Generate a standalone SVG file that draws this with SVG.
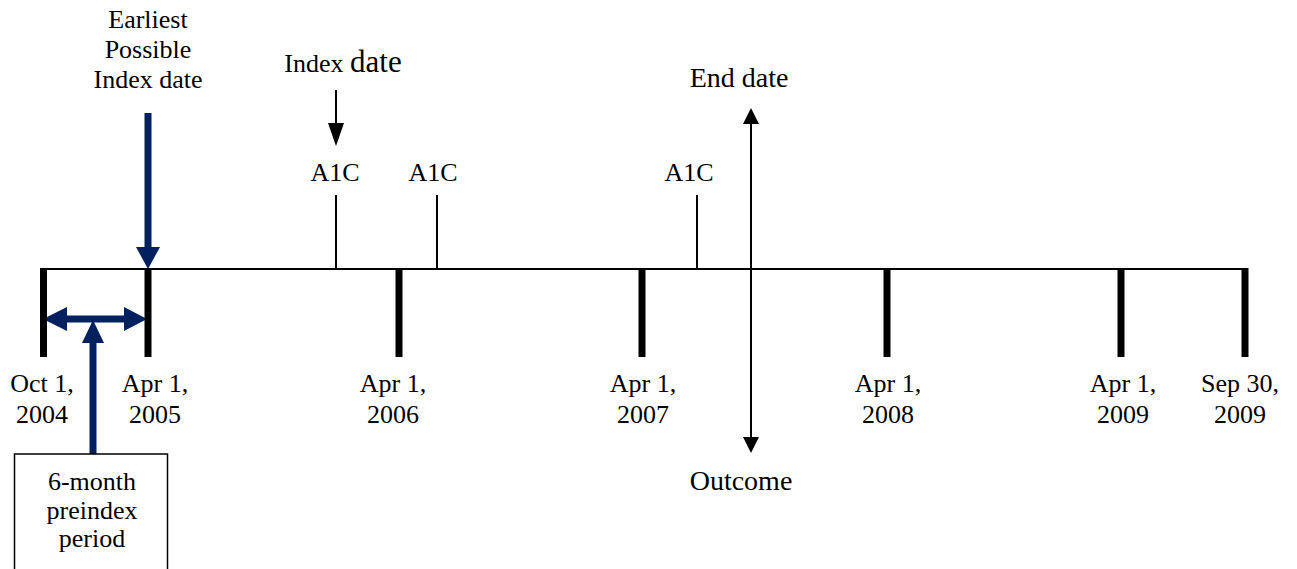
<svg xmlns="http://www.w3.org/2000/svg" width="1297" height="569" viewBox="0 0 1297 569">
<style>
text{font-family:"Liberation Serif","Times New Roman",serif;font-size:26px;fill:#000;text-anchor:middle}
.big{font-size:28px}
.tick{stroke:#000;stroke-width:7;fill:none}
.thin{stroke:#000;stroke-width:2;fill:none}
.navy{stroke:#002060;stroke-width:7;fill:none}
.navyhead{fill:#002060}
.head{fill:#000}
</style>
<rect width="1297" height="569" fill="#fff"/>
<g id="connectors">
  <line class="thin" x1="43" y1="269" x2="1245" y2="269"/>
  <line class="thin" x1="336" y1="195" x2="336" y2="269"/>
  <line class="thin" x1="437" y1="195" x2="437" y2="269"/>
  <line class="thin" x1="697" y1="195" x2="697" y2="269"/>
  <line class="thin" x1="336" y1="90" x2="336" y2="125"/>
  <polygon class="head" points="328,123 344,123 336,146"/>
  <line class="thin" x1="751" y1="122" x2="751" y2="440"/>
  <polygon class="head" points="743,124 759,124 751,108"/>
  <polygon class="head" points="743,437 759,437 751,453"/>
  <line class="navy" x1="148" y1="113" x2="148" y2="250"/>
  <polygon class="navyhead" points="136,247 160,247 148,269"/>
  <line class="navy" x1="62" y1="319" x2="129" y2="319"/>
  <polygon class="navyhead" points="43,319 67,307 67,331"/>
  <polygon class="navyhead" points="147,319 124,307 124,331"/>
  <line class="navy" x1="93" y1="338" x2="93" y2="454"/>
  <polygon class="navyhead" points="93,320 82,343 104,343"/>
</g>
<g id="ticks">
  <line class="tick" x1="43.5" y1="268" x2="43.5" y2="357"/>
  <line class="tick" x1="148" y1="268" x2="148" y2="357"/>
  <line class="tick" x1="399" y1="268" x2="399" y2="357"/>
  <line class="tick" x1="642" y1="268" x2="642" y2="357"/>
  <line class="tick" x1="887" y1="268" x2="887" y2="357"/>
  <line class="tick" x1="1121" y1="268" x2="1121" y2="357"/>
  <line class="tick" x1="1245" y1="268" x2="1245" y2="357"/>
</g>
<g id="earliest">
  <text x="148" y="28">Earliest</text>
  <text x="148" y="58">Possible</text>
  <text x="148" y="88">Index date</text>
</g>
<g id="index-date">
  <text x="343" y="72"><tspan>Index </tspan><tspan font-size="31">date</tspan></text>
</g>
<g id="a1c-1"><text x="335" y="181">A1C</text></g>
<g id="a1c-2"><text x="433" y="181">A1C</text></g>
<g id="a1c-3"><text x="689" y="181">A1C</text></g>
<g id="end-date"><text class="big" x="739" y="87">End date</text></g>
<g id="outcome"><text class="big" x="741" y="490">Outcome</text></g>
<g id="d2004"><text x="42" y="392">Oct 1,</text><text x="42" y="423">2004</text></g>
<g id="d2005"><text x="155" y="392">Apr 1,</text><text x="155" y="423">2005</text></g>
<g id="d2006"><text x="393" y="392">Apr 1,</text><text x="393" y="423">2006</text></g>
<g id="d2007"><text x="643" y="392">Apr 1,</text><text x="643" y="423">2007</text></g>
<g id="d2008"><text x="888" y="392">Apr 1,</text><text x="888" y="423">2008</text></g>
<g id="d2009"><text x="1123" y="392">Apr 1,</text><text x="1123" y="423">2009</text></g>
<g id="d2009b"><text x="1240" y="392">Sep 30,</text><text x="1240" y="423">2009</text></g>
<g id="preindex-box">
  <rect x="14.5" y="454" width="153" height="130" fill="#fff" stroke="#000" stroke-width="1.5"/>
  <text x="92" y="490">6-month</text>
  <text x="92" y="519">preindex</text>
  <text x="92" y="547">period</text>
</g>
</svg>
